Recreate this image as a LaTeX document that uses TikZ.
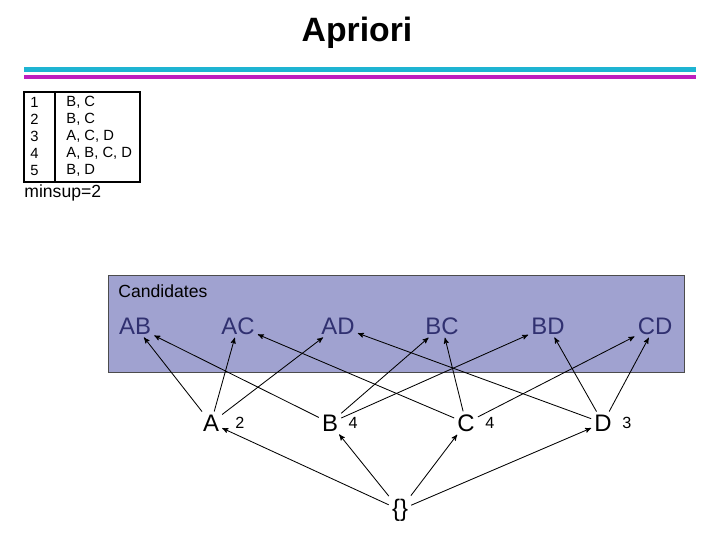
\documentclass[tikz,border=0pt]{standalone}
\usepackage{fontspec}
\setmainfont{Liberation Sans}
\usetikzlibrary{arrows,positioning}
\definecolor{candfill}{RGB}{160,162,208}
\definecolor{candtext}{RGB}{48,48,112}
\definecolor{barcyan}{RGB}{30,180,210}
\definecolor{barmag}{RGB}{190,30,190}
\newcommand*{\ptsz}[1]{\fontsize{#1}{#1}\selectfont}

\begin{document}
\begin{tikzpicture}[x=0.025cm, y=-0.025cm, ->, >=stealth', semithick]
    \tikzstyle{cand}=[text=candtext,font=\ptsz{17pt},inner sep=2pt]
    \tikzstyle{single}=[font=\ptsz{17pt},inner sep=2pt]
    \tikzstyle{count}=[font=\ptsz{11.5pt},inner sep=1pt]
    \tikzstyle{row}=[font=\ptsz{10.5pt},anchor=west,inner sep=0pt]
    \useasboundingbox (0,0) rectangle (720,540);
    % header
    \node[font=\bfseries\ptsz{24pt}] (title) at (357,33) {Apriori};
    \fill[barcyan] (24,67) rectangle (696,72);
    \fill[barmag] (24,75) rectangle (696,79);
    % transactions
    \draw[-,thick] (24,92) rectangle (140,182) (55,92) -- (55,182);
    \foreach \i/\t [count=\n] in {1/{B, C},2/{B, C},3/{A, C, D},4/{A, B, C, D},5/{B, D}} {
        \node[row] (id\n) at (30,85+17*\n) {\i};
        \node[row] (tr\n) at (66,85+17*\n) {\t};
    }
    \node[font=\ptsz{12.5pt},anchor=west,inner sep=0pt] (minsup) at (24,193) {minsup=2};
    % candidates box
    \draw[-,fill=candfill,draw=black!70] (108,275) rectangle (684,372);
    \node[font=\ptsz{12.5pt},anchor=west,inner sep=0pt] (candlabel) at (118,291) {Candidates};
    \node[cand] (AB) at (135,326) {AB};
    \node[cand] (AC) at (238,326) {AC};
    \node[cand] (AD) at (338,326) {AD};
    \node[cand] (BC) at (442,326) {BC};
    \node[cand] (BD) at (548,326) {BD};
    \node[cand] (CD) at (655,326) {CD};
    % frequent items
    \node[single] (A) at (211,423) {A};
    \node[single] (B) at (330,423) {B};
    \node[single] (C) at (466,423) {C};
    \node[single] (D) at (603,423) {D};
    \node[count] (nA) [right=8pt of A] {2};
    \node[count] (nB) [right=4pt of B] {4};
    \node[count] (nC) [right=4pt of C] {4};
    \node[count] (nD) [right=4pt of D] {3};
    \node[single] (E) at (400,510) {\{\}};
    \path
    (A) edge (AB) edge (AC) edge (AD)
    (B) edge (AB) edge (BC) edge (BD)
    (C) edge (AC) edge (BC) edge (CD)
    (D) edge (AD) edge (BD) edge (CD)
    (E) edge (A) edge (B) edge (C) edge (D);
\end{tikzpicture}
\end{document}
